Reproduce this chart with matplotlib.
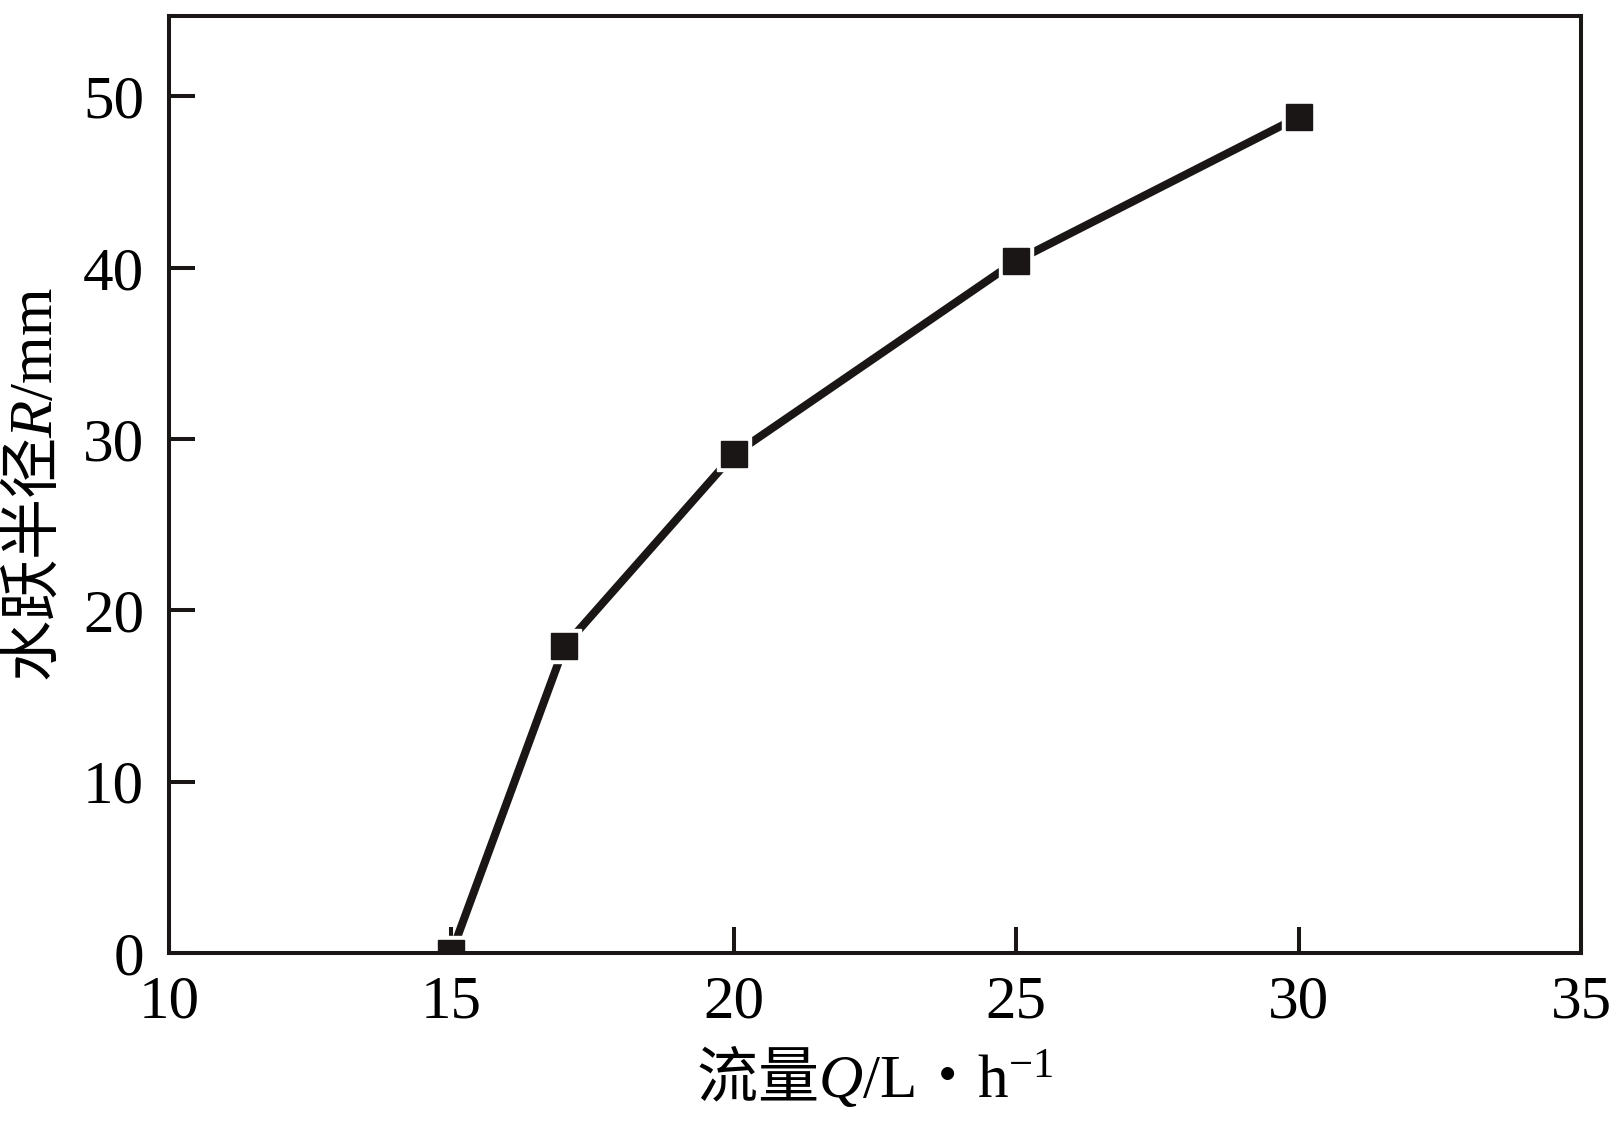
import matplotlib
matplotlib.use('Agg')
import matplotlib.pyplot as plt

# 流量 Q (L/h) 与 水跃半径 R (mm)
flow = [15, 17, 20, 25, 30]
radius = [0, 17.9, 29.1, 40.4, 48.8]
xticks = [10, 15, 20, 25, 30, 35]
yticks = [0, 10, 20, 30, 40, 50]

plt.rcParams['font.family'] = ['Liberation Serif', 'Noto Sans CJK SC']
plt.rcParams['mathtext.fontset'] = 'custom'
plt.rcParams['mathtext.rm'] = 'Liberation Serif'
plt.rcParams['mathtext.it'] = 'Liberation Serif:italic'

ink = '#1a1616'

fig = plt.figure(figsize=(16.24, 11.23), dpi=100)
ax = fig.add_axes([0.1041, 0.1514, 0.8694, 0.8344])

ax.plot(flow, radius, color=ink, lw=5.8, solid_capstyle='round', zorder=2)
# white halo so the line stops short of each marker
ax.plot(flow, radius, ls='none', marker='s', ms=25, mfc='white', mec='white', zorder=2.1)
ax.plot(flow, radius, ls='none', marker='s', ms=18.5, mfc=ink, mec=ink, zorder=2.2)

ax.set_xlim(10, 35)
ax.set_ylim(0, 54.7)
ax.set_xticks(xticks)
ax.set_yticks(yticks)
ax.tick_params(direction='in', length=18.7, width=2.9, color=ink,
               labelsize=44, labelcolor='black', top=False, right=False)
ax.tick_params(axis='x', pad=16)
ax.tick_params(axis='y', pad=18)
for s in ax.spines.values():
    s.set_linewidth(2.9)
    s.set_color(ink)

ax.set_xlabel('流量$Q\\mathrm{/L}$・$\\mathrm{h^{-1}}$', fontsize=44,
              family='Noto Sans CJK SC', labelpad=10)
ax.set_ylabel('水跃半径$R\\mathrm{/mm}$', fontsize=44,
              family='Noto Sans CJK SC', labelpad=12)

fig.savefig('out.png', dpi=100)
